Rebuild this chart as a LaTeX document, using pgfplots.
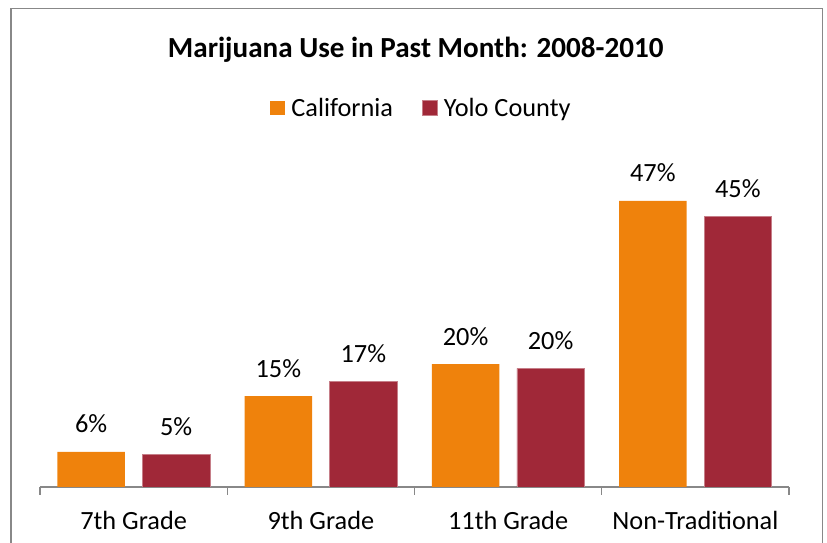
\documentclass[border=0pt]{standalone}
\usepackage{pgfplots}
\pgfplotsset{compat=1.18}
\usepackage{fontspec}
\setmainfont{Carlito}
\definecolor{calor}{RGB}{239,130,12}
\definecolor{yolo}{RGB}{160,40,56}
\definecolor{framegray}{RGB}{136,136,136}
\begin{document}
\begin{tikzpicture}
\useasboundingbox (-40pt,-56pt) rectangle (787pt,487pt);
\draw[framegray, line width=1.3pt] (-29pt,-60pt) -- (-29pt,478.7pt) -- (782.3pt,478.7pt) -- (782.3pt,-60pt);
\begin{axis}[
  scale only axis,
  width=749pt, height=302.5pt,
  xmin=-0.5, xmax=3.5, ymin=0, ymax=50,
  axis x line*=bottom,
  axis y line=none,
  axis line style={framegray, line width=1.3pt},
  ybar=17.3pt,
  bar width=67.7pt,
  xtick={0,1,2,3},
  xticklabels={7th Grade, 9th Grade, 11th Grade, Non-Traditional},
  major tick length=0pt,
  tick align=outside,
  xtick pos=bottom,
  extra x ticks={-0.5,0.5,1.5,2.5,3.5},
  extra x tick labels={},
  extra x tick style={major tick length=8pt, tick style={framegray, line width=1.3pt}},
  xticklabel style={font=\fontsize{26.3pt}{30pt}\selectfont, anchor=base, yshift=-42pt, inner sep=0pt},
  point meta=explicit symbolic,
  nodes near coords,
  every node near coord/.append style={font=\fontsize{26.3pt}{30pt}\selectfont, anchor=base, yshift=19pt, inner sep=0pt, black},
  legend style={at={(0.3071,1.2529)}, anchor=west, draw=none, fill=none, legend columns=-1,
    inner sep=0pt, outer sep=0pt, font=\fontsize{26.3pt}{30pt}\selectfont,
    nodes={inner sep=0pt},
    /tikz/every odd column/.append style={column sep=6.7pt},
    /tikz/every even column/.append style={column sep=29pt}},
  legend image code/.code={\fill[#1] (0pt,-7.35pt) rectangle (14.7pt,7.35pt);},
]
\addplot[fill=calor, draw=none] coordinates {(0,5.8) [6\%] (1,15.0) [15\%] (2,20.3) [20\%] (3,47.3) [47\%]};
\addlegendentry{California}
\addplot[fill=yolo, draw=yolo!60!white, line width=0.5pt] coordinates {(0,5.4) [5\%] (1,17.5) [17\%] (2,19.6) [20\%] (3,44.7) [45\%]};
\addlegendentry{Yolo County}
\end{axis}
\node[anchor=base, inner sep=0pt, font=\bfseries\fontsize{29.1pt}{34pt}\selectfont] at (375.7pt,429.7pt) {Marijuana Use in Past Month: 2008-2010};
\end{tikzpicture}
\end{document}
